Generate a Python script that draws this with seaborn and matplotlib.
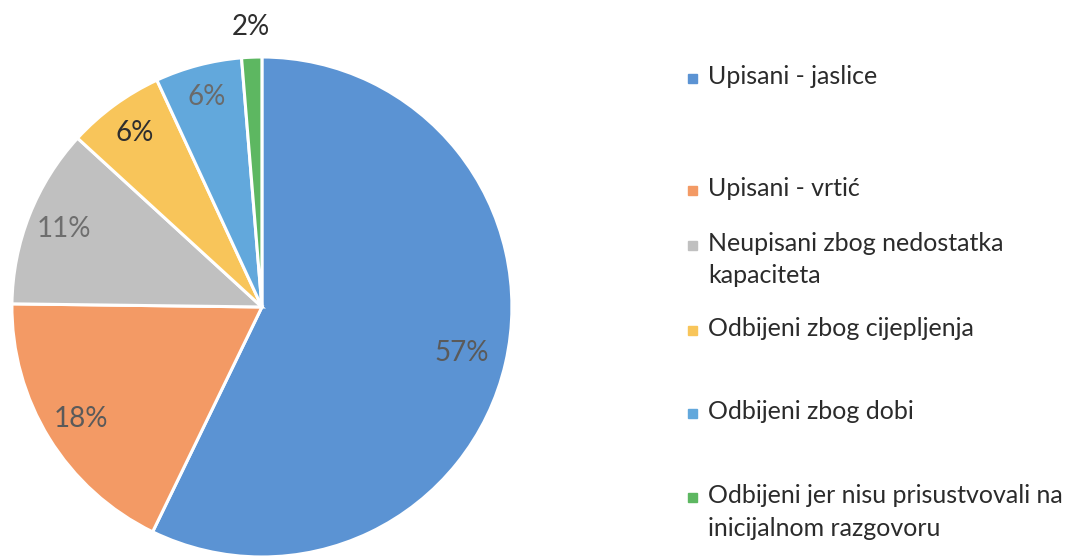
import numpy as np
import matplotlib
matplotlib.use("Agg")
import matplotlib.pyplot as plt
from matplotlib.patches import Rectangle
import seaborn as sns

categories = ["Upisani - jaslice",
              "Upisani - vrtić",
              "Neupisani zbog nedostatka\nkapaciteta",
              "Odbijeni zbog cijepljenja",
              "Odbijeni zbog dobi",
              "Odbijeni jer nisu prisustvovali na\ninicijalnom razgovoru"]
shares = [57.2, 18.0, 11.6, 6.3, 5.6, 1.3]
pct_labels = ["57%", "18%", "11%", "6%", "6%", "2%"]

colors = sns.color_palette(["#5b93d3", "#f39a65", "#c0c0c0", "#f8c55a", "#62a8dc", "#5db761"])
label_colors = ["#5a5a5a", "#5a5a5a", "#6e6e6e", "#2e2e2e", "#6a6a6a", "#2e2e2e"]
label_dist = [0.82, 0.85, 0.85, 0.86, 0.87, 1.12]

sns.set_theme(style="white")
plt.rcParams['font.family'] = ['Lato', 'DejaVu Sans']

fig = plt.figure(figsize=(10.75, 5.57), dpi=100)
ax = fig.add_axes([0.0111, 0.0, 0.4651, 0.8977])

wedges, _ = ax.pie(shares, colors=colors, startangle=90, counterclock=False,
                   wedgeprops=dict(edgecolor="white", linewidth=2.2))
ax.set_xlim(-1, 1)
ax.set_ylim(-1, 1)
ax.set_aspect("equal")
ax.axis("off")

# percentage labels at mid angle of each wedge
for w, txt, c, d in zip(wedges, pct_labels, label_colors, label_dist):
    ang = np.deg2rad((w.theta1 + w.theta2) / 2)
    ax.text(d * np.cos(ang), d * np.sin(ang), txt, ha="center", va="center",
            fontsize=20, color=c)

# legend, laid out like the original
legend_y = [78, 190, 245, 330, 413, 497]
for name, col, y in zip(categories, colors, legend_y):
    fy = 1 - y / 557
    fig.patches.append(Rectangle((688 / 1075, fy - 4.5 / 557), 9 / 1075, 9 / 557,
                                 transform=fig.transFigure, color=col))
    fig.text(708 / 1075, fy + 13 / 557, name, ha="left", va="top",
             fontsize=18, color="#2b2b2b", linespacing=1.5)

fig.savefig("out.png", dpi=100)
